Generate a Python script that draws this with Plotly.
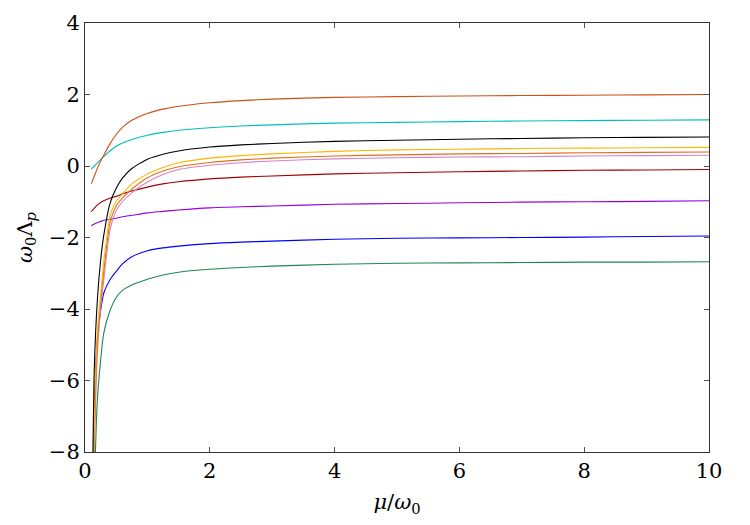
import plotly.graph_objects as go

x_vals = [0.1, 0.15, 0.2, 0.25, 0.3, 0.4, 0.5, 0.6, 0.75, 1.0, 1.25, 1.5, 2, 2.5, 3, 4, 5, 6, 7, 8, 9, 10]

orange_red = [-0.50, -0.28, -0.06, 0.13, 0.30, 0.62, 0.88, 1.08, 1.28, 1.47, 1.59, 1.67, 1.77, 1.83, 1.87, 1.92, 1.94, 1.96, 1.97, 1.98, 1.99, 2.00]
cyan = [-0.09, 0.00, 0.09, 0.18, 0.26, 0.42, 0.55, 0.64, 0.74, 0.86, 0.94, 1.00, 1.07, 1.12, 1.15, 1.20, 1.22, 1.24, 1.26, 1.27, 1.28, 1.29]
black = [-12.0, -5.6, -3.7, -2.65, -1.95, -1.05, -0.62, -0.34, -0.07, 0.19, 0.33, 0.42, 0.53, 0.59, 0.63, 0.69, 0.72, 0.75, 0.77, 0.79, 0.80, 0.81]
yellow = [-13.0, -7.0, -4.6, -3.6, -2.7, -1.4, -0.98, -0.78, -0.50, -0.22, -0.04, 0.09, 0.22, 0.29, 0.34, 0.41, 0.45, 0.47, 0.49, 0.50, 0.51, 0.52]
orange = [-13.5, -7.5, -4.9, -3.8, -2.95, -1.6, -1.12, -0.90, -0.65, -0.33, -0.14, -0.02, 0.10, 0.17, 0.22, 0.28, 0.31, 0.34, 0.35, 0.37, 0.38, 0.39]
pink = [-14.0, -8.0, -5.2, -4.0, -3.2, -1.8, -1.25, -1.00, -0.75, -0.45, -0.24, -0.10, 0.02, 0.09, 0.14, 0.20, 0.23, 0.25, 0.26, 0.28, 0.29, 0.30]
dark_red = [-1.28, -1.18, -1.09, -1.02, -0.97, -0.90, -0.85, -0.78, -0.70, -0.59, -0.50, -0.44, -0.36, -0.31, -0.28, -0.22, -0.19, -0.16, -0.14, -0.12, -0.11, -0.10]
purple = [-1.67, -1.62, -1.58, -1.55, -1.52, -1.49, -1.46, -1.42, -1.38, -1.31, -1.27, -1.23, -1.17, -1.14, -1.12, -1.07, -1.05, -1.03, -1.01, -1.00, -0.99, -0.97]
blue = [-14.0, -6.8, -4.8, -4.05, -3.56, -3.18, -2.95, -2.74, -2.54, -2.37, -2.29, -2.24, -2.17, -2.13, -2.10, -2.05, -2.02, -2.01, -2.00, -1.99, -1.97, -1.96]
green = [-16.0, -9.2, -6.5, -5.45, -4.68, -4.05, -3.68, -3.48, -3.33, -3.17, -3.05, -2.97, -2.89, -2.84, -2.80, -2.75, -2.72, -2.71, -2.70, -2.69, -2.69, -2.68]

series = [
    (green, "rgb(30,135,85)"),
    (blue, "rgb(0,0,255)"),
    (purple, "rgb(150,0,220)"),
    (dark_red, "rgb(160,0,0)"),
    (pink, "rgb(215,130,195)"),
    (orange, "rgb(225,110,30)"),
    (yellow, "rgb(255,180,0)"),
    (black, "rgb(0,0,0)"),
    (cyan, "rgb(0,190,190)"),
    (orange_red, "rgb(205,80,20)"),
]

x_ticks = [0, 2, 4, 6, 8, 10]
y_ticks = [-8, -6, -4, -2, 0, 2, 4]

fig = go.Figure()
for ys, col in series:
    fig.add_trace(go.Scatter(x=x_vals, y=ys, mode="lines",
                             line=dict(color=col, width=1.1, shape="spline", smoothing=0.6),
                             showlegend=False, hoverinfo="skip"))

fam = "DejaVu Serif"
font = dict(family=fam, size=21, color="black")
title_font = dict(family=fam, size=21, color="black")
axis_common = dict(showgrid=False, zeroline=False, showline=True, linecolor="#333",
                   linewidth=1, mirror="ticks", ticks="inside", ticklen=5,
                   tickcolor="#555", tickwidth=1, tickfont=font)

fig.update_layout(
    width=750, height=525,
    margin=dict(l=85, r=41, t=23, b=73),
    paper_bgcolor="white", plot_bgcolor="white",
    font=font,
    xaxis=dict(range=[0, 10], tickvals=x_ticks, ticktext=[str(v) for v in x_ticks],
               title=dict(text="<i>μ</i>/<i>ω</i><sub>0</sub>", font=title_font, standoff=12),
               **axis_common),
    yaxis=dict(range=[-8, 4], tickvals=y_ticks, ticktext=[str(v).replace("-", "−") for v in y_ticks],
               title=dict(text="<i>ω</i><sub>0</sub>Λ<sub><i>p</i></sub>", font=title_font, standoff=10),
               **axis_common),
)

fig.write_html("out.html")
